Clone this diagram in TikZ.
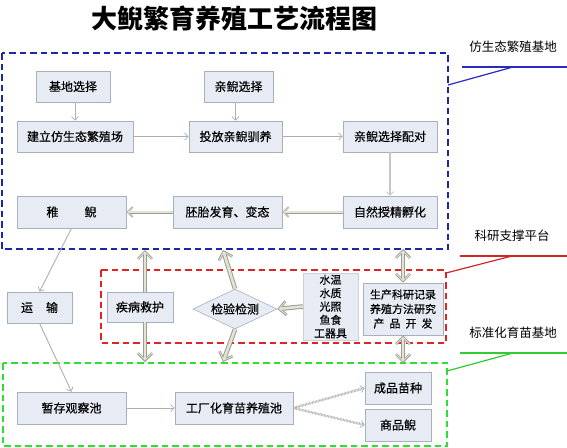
\documentclass[tikz,border=0pt]{standalone}
\usepackage{fontspec}
\setmainfont{Noto Sans CJK SC}
\newfontfamily\boxfont[FakeBold=0.4]{Noto Sans CJK SC}
\usetikzlibrary{arrows.meta,shapes.geometric}
\definecolor{boxfill}{HTML}{E6EBF4}
\definecolor{boxdraw}{HTML}{A8B0C0}
\definecolor{thinline}{HTML}{AFAFAF}
\definecolor{fatdraw}{HTML}{9C9C94}
\definecolor{fatfill}{HTML}{E4E4D4}
\definecolor{zoneblue}{HTML}{1A28A8}
\definecolor{zonered}{HTML}{E02424}
\definecolor{zonegreen}{HTML}{2EE02E}
\definecolor{lineblue}{HTML}{2A2AC0}
\definecolor{linered}{HTML}{D02828}
\definecolor{linegreen}{HTML}{30CC30}
\tikzset{
  box/.style={rectangle, fill=boxfill, draw=boxdraw, line width=0.6pt, inner sep=0pt,
    font=\boxfont\fontsize{12}{14}\selectfont, align=center},
  zone/.style={line width=2.8pt, dash pattern=on 6.5pt off 4pt},
  lbl/.style={line width=1.2pt},
  lbltext/.style={font=\fontsize{12.5}{14}\selectfont, inner sep=0pt},
  thin/.style={draw=thinline, line width=0.9pt, -{Straight Barb[length=3.5pt,width=7pt,line width=0.8pt]}},
  hatch/.style={draw=gray!60, line width=2.4pt, dash pattern=on 0.8pt off 0.7pt,
    -{Straight Barb[length=3.5pt,width=7pt,line width=0.8pt]}},
  mid/.style={draw=fatdraw, line width=3pt, -{Straight Barb[length=5pt,width=10pt,line width=1.8pt]},
    postaction={draw=fatfill, line width=1.3pt, shorten >=0.9pt, -{Straight Barb[length=5pt,width=10pt,line width=0.5pt]}}},
  fat/.style={draw=fatdraw, line width=4.6pt, -{Straight Barb[length=7pt,width=14pt,line width=2.6pt]},
    postaction={draw=fatfill, line width=2.6pt, shorten >=1.4pt, -{Straight Barb[length=7pt,width=14pt,line width=0.8pt]}}},
  fatboth/.style={draw=fatdraw, line width=4.6pt, {Straight Barb[length=7pt,width=14pt,line width=2.6pt]}-{Straight Barb[length=7pt,width=14pt,line width=2.6pt]},
    postaction={draw=fatfill, line width=2.6pt, shorten >=1.4pt, shorten <=1.4pt, {Straight Barb[length=7pt,width=14pt,line width=0.8pt]}-{Straight Barb[length=7pt,width=14pt,line width=0.8pt]}}},
}
\begin{document}
\begin{tikzpicture}[x=1pt,y=-1pt]
\useasboundingbox (0,0) rectangle (567,447);
\fill[white] (0,0) rectangle (567,447);

% title
\node[font=\fontsize{26}{30}\selectfont\bfseries, inner sep=0pt] (title) at (234,18) {大鲵繁育养殖工艺流程图};

% zones
\draw[zone, draw=zoneblue] (2,53) rectangle (448,249);
\draw[zone, draw=zonered] (101,270) rectangle (446,343);
\draw[zone, draw=zonegreen] (3,363) rectangle (447,446);

% zone labels and leader lines
\node[lbltext] (lblue) at (513,47) {仿生态繁殖基地};
\node[lbltext] (lred) at (512,236) {科研支撑平台};
\node[lbltext] (lgreen) at (513,333) {标准化育苗基地};
\coordinate (bl1) at (448,85); \coordinate (bl2) at (513,67);
\coordinate (bl3) at (462,67); \coordinate (bl4) at (567,67);
\coordinate (rl1) at (446,273); \coordinate (rl2) at (512,256);
\coordinate (rl3) at (460,256); \coordinate (rl4) at (567,256);
\coordinate (gl1) at (447,371); \coordinate (gl2) at (513,353);
\coordinate (gl3) at (460,353); \coordinate (gl4) at (567,353);
\draw[lbl, draw=lineblue] (bl1) -- (bl2);
\draw[lbl, draw=lineblue] (bl3) -- (bl4);
\draw[lbl, draw=linered] (rl1) -- (rl2);
\draw[lbl, draw=linered] (rl3) -- (rl4);
\draw[lbl, draw=linegreen] (gl1) -- (gl2);
\draw[lbl, draw=linegreen] (gl3) -- (gl4);

% nodes
\node[box, minimum width=74pt, minimum height=31pt] (jidi) at (73,86.5) {基地选择};
\node[box, minimum width=69pt, minimum height=31pt] (qinni) at (238.5,86.5) {亲鲵选择};
\node[box, minimum width=116pt, minimum height=31pt] (jianli) at (75,136.5) {建立仿生态繁殖场};
\node[box, minimum width=93pt, minimum height=31pt] (toufang) at (235.5,136.5) {投放亲鲵驯养};
\node[box, minimum width=94pt, minimum height=31pt] (peidui) at (390,136.5) {亲鲵选择配对};
\node[box, minimum width=109pt, minimum height=32pt] (zhini) at (71.5,212) {稚\hspace{26pt}鲵};
\node[box, minimum width=109pt, minimum height=32pt] (peitai) at (227.5,212) {胚胎发育、变态};
\node[box, minimum width=94pt, minimum height=32pt] (fuhua) at (390,212) {自然授精孵化};
\node[box, minimum width=65pt, minimum height=31pt] (yunshu) at (39.5,307.5) {运\hspace{13pt}输};
\node[box, minimum width=66pt, minimum height=30pt] (jibing) at (140,307) {疾病救护};
\node[box, diamond, aspect=2.1, minimum width=84pt, minimum height=40pt] (jiance) at (235,309) {检验检测};
\node[box, draw=boxdraw!60, minimum width=55pt, minimum height=67pt, font=\boxfont\fontsize{11}{13.4}\selectfont] (shuiwen) at (330.5,306.5) {水温\\水质\\光照\\鱼食\\工器具};
\node[box, minimum width=80pt, minimum height=52pt, font=\boxfont\fontsize{11}{14.5}\selectfont] (shengchan) at (403,309) {生产科研记录\\养殖方法研究\\产\hspace{5pt}品\hspace{5pt}开\hspace{5pt}发};
\node[box, minimum width=109pt, minimum height=32pt] (zancun) at (71.5,408) {暂存观察池};
\node[box, minimum width=118pt, minimum height=32pt] (gongchang) at (234,408) {工厂化育苗养殖池};
\node[box, minimum width=66pt, minimum height=32pt] (chengpin) at (398,388) {成品苗种};
\node[box, minimum width=66pt, minimum height=32pt] (shangpin) at (398,425) {商品鲵};

% thin connectors
\draw[thin] (jidi.south -| jianli.north) -- (jianli.north);
\draw[thin] (qinni.south -| toufang.north) -- (toufang.north);
\draw[thin] (jianli.east) -- (toufang.west);
\draw[thin] (toufang.east) -- (peidui.west);
\draw[thin, line width=1.6pt, draw=gray!45] (peidui.south) -- (fuhua.north);
\draw[thin] (zhini.south) -- (yunshu.north);
\draw[thin] (yunshu.south) -- (zancun.north);
\draw[thin] (zancun.east) -- (gongchang.west);
\draw[hatch] (gongchang.east) -- (chengpin.west);
\draw[hatch] (gongchang.east) -- (shangpin.west);

% medium hollow arrows
\draw[mid] (fuhua.west) -- (peitai.east);
\draw[mid] (peitai.west) -- (zhini.east);

% fat arrows
\coordinate (jbtop) at (145,250); \coordinate (jbbot) at (145,362);
\coordinate (jctop) at (223,250); \coordinate (jcbot) at (223,362);
\coordinate (sctop) at (403,249); \coordinate (scbot) at (403,363);
\draw[fat] ([xshift=5pt]jibing.north) -- (jbtop);
\draw[fat] ([xshift=5pt]jibing.south) -- (jbbot);
\draw[fat] (jiance.north) -- (jctop);
\draw[fat] (jiance.south) -- (jcbot);
\draw[fat] (shuiwen.west) -- (jiance.east);
\draw[fatboth] (sctop) -- (shengchan.north);
\draw[fatboth] (shengchan.south) -- (scbot);
\end{tikzpicture}
\end{document}
